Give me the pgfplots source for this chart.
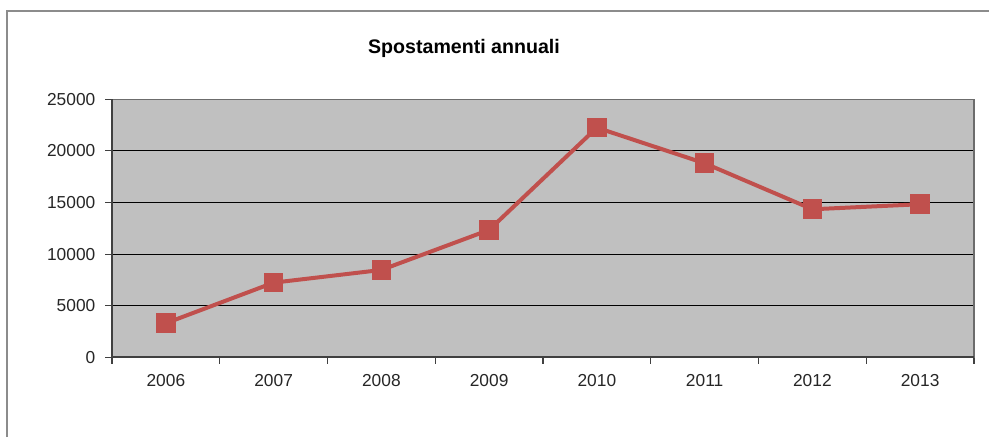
\documentclass[border=0pt]{standalone}
\usepackage{fontspec}
\setmainfont{Liberation Sans}
\usepackage{pgfplots}
\pgfplotsset{compat=1.18}

\definecolor{plotbg}{HTML}{C0C0C0}
\definecolor{linered}{HTML}{C0504D}
\definecolor{framegray}{HTML}{8C8C8C}

\begin{document}
\begin{tikzpicture}
% outer chart frame (only left and top edge visible in the reference)
\draw[framegray, line width=1.2pt] (5.25pt,0) -- (5.25pt,319.5pt) -- (741.75pt,319.5pt);

\node[font=\fontsize{14.7}{17}\selectfont\bfseries, anchor=base, inner sep=0pt] at (348pt,287.8pt) {Spostamenti annuali};

\begin{axis}[
    at={(84pt,59.8pt)}, anchor=south west,
    scale only axis,
    width=646.5pt, height=193.5pt,
    xmin=0.5, xmax=8.5,
    ymin=0, ymax=25000,
    xtick={0.5,1.5,...,8.5},
    xticklabels={2006,2007,2008,2009,2010,2011,2012,2013},
    x tick label as interval,
    ytick={0,5000,...,25000},
    xtick pos=bottom, ytick pos=left,
    ymajorgrids,
    major grid style={black, line width=0.8pt},
    axis background/.style={fill=plotbg},
    axis line style={gray!85!black, line width=1pt},
    tick style={black!75, line width=0.8pt},
    tick align=outside,
    major tick length=5pt,
    tick label style={font=\fontsize{13}{15}\selectfont, text=black!85},
    xticklabel style={yshift=-4pt},
    yticklabel style={xshift=-4pt},
    /pgf/number format/assume math mode=true,
    scaled y ticks=false,
    yticklabel={\pgfmathprintnumber[fixed,1000 sep={}]{\tick}},
    clip=false,
]
\addplot[
    color=linered,
    line width=3pt,
    mark=square*,
    mark size=7pt,
    mark options={line width=0pt, fill=linered, draw=linered},
] coordinates {
    (1, 3300)
    (2, 7230)
    (3, 8460)
    (4, 12340)
    (5, 22250)
    (6, 18800)
    (7, 14340)
    (8, 14830)
};
\draw[black!75, line width=1.2pt] (rel axis cs:0,1) -- (rel axis cs:0,0) -- (rel axis cs:1,0);
\end{axis}

\pgfresetboundingbox
\useasboundingbox (0,0) rectangle (741.75pt,327.75pt);
\end{tikzpicture}
\end{document}
